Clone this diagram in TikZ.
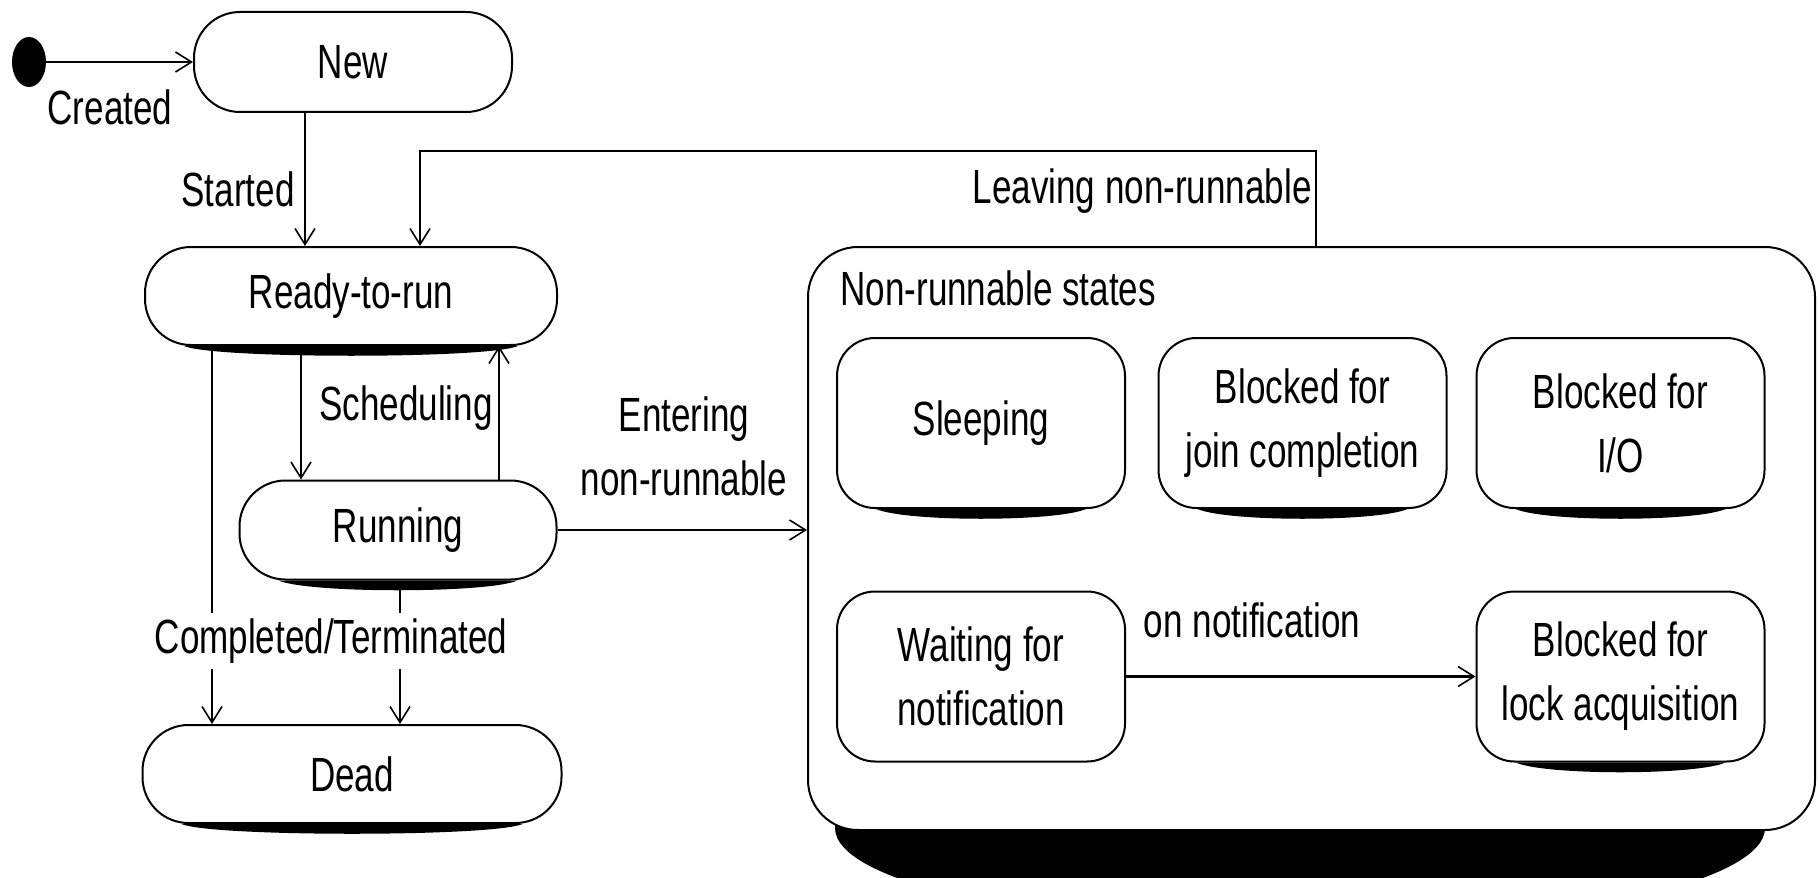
\documentclass[tikz,border=0pt]{standalone}
\usepackage{fontspec}
\setmainfont{Liberation Sans}[FakeStretch=0.73]
\usetikzlibrary{arrows.meta,calc,shapes.geometric}
\newcommand\nodeshadow[1]{\fill[black] ($(#1.south west)+(40,0)$) -- ($(#1.south east)+(-40,0)$) .. controls ($(#1.south east)+(-70,13)$) and ($(#1.south west)+(70,13)$) .. cycle;}
\begin{document}
\begin{tikzpicture}[x=0.5pt,y=-0.5pt,
 every node/.style={font=\fontsize{24}{32}\selectfont},
 st/.style={draw, line width=1pt, fill=white, rounded corners=23pt, align=center, inner sep=0pt},
 sub/.style={draw, line width=1pt, fill=white, rounded corners=19pt, align=center, inner sep=0pt, minimum width=144pt, minimum height=85pt},
 arr/.style={line width=1.2pt, -{Straight Barb[length=8pt,width=10pt,line width=0.8pt]}},
 lbl/.style={inner sep=1pt}]
\useasboundingbox (0,0) rectangle (1818,877);
% big composite state
\fill[black] (1300,828) ellipse [x radius=465, y radius=100];
\node[draw, line width=1pt, fill=white, rounded corners=25pt, minimum width=503.5pt, minimum height=291.5pt, inner sep=0pt] (nr) at (1311.5,538.5) {};
\node[anchor=west, lbl] (nrl) at (838,288) {Non-runnable states};
% main states
\node[fill=black, ellipse, minimum width=17pt, minimum height=25pt, inner sep=0pt] (init) at (29,62) {};
\node[st, minimum width=159pt, minimum height=50pt] (new) at (353,62) {New};
\node[st, minimum width=206pt, minimum height=49pt] (ready) at (351,296) {Ready-to-run};
\node[st, minimum width=158.5pt, minimum height=49.5pt] (run) at (398,530) {Running};
\node[st, minimum width=209.5pt, minimum height=49pt] (dead) at (352,774) {Dead};
% sub states
\node[sub] (sleep) at (981,423) {Sleeping};
\node[sub] (join) at (1302.5,423) {Blocked for\\join completion};
\node[sub] (io) at (1620.5,423) {Blocked for\\I/O};
\node[sub] (wait) at (981,676.5) {Waiting for\\notification};
\node[sub] (lock) at (1620.5,676.5) {Blocked for\\lock acquisition};
\foreach \n in {ready,run,dead,sleep,join,io,lock} {\nodeshadow{\n}}
% coordinates
\coordinate (xa) at (305,0);
\coordinate (lv) at (1316,151);
\coordinate (lx) at (420,0);
\coordinate (sd) at (301,0);
\coordinate (su) at (499,0);
\coordinate (cl) at (212,0);
\coordinate (cr) at (400,0);
% connectors
\draw[arr] (init) -- (new.west);
\draw[arr] (new.south -| xa) -- (ready.north -| xa);
\draw[arr] (nr.north -| lv) -- (lv) -| (ready.north -| lx);
\draw[arr] (ready.south -| sd) -- (run.north -| sd);
\draw[arr] (run.north -| su) -- (ready.south -| su);
\draw[arr] (ready.south -| cl) -- (dead.north -| cl);
\draw[arr] (run.south -| cr) -- (dead.north -| cr);
\draw[arr] (run.east) -- (nr.west |- run.east);
\draw[arr] (wait.east) -- (lock.west);
% labels
\node[lbl] (created) at (110,107) {Created};
\node[lbl] (started) at (238,189) {Started};
\node[lbl] (sched) at (406,408) {Scheduling};
\node[lbl, align=center] (enter) at (684,446) {Entering\\non-runnable};
\node[fill=white, inner sep=3pt] (compl) at (331,641) {Completed/Terminated};
\node[lbl, anchor=east] (leave) at (1314,191) {Leaving non-runnable};
\node[lbl] (onn) at (1252,620) {on notification};
\end{tikzpicture}
\end{document}
